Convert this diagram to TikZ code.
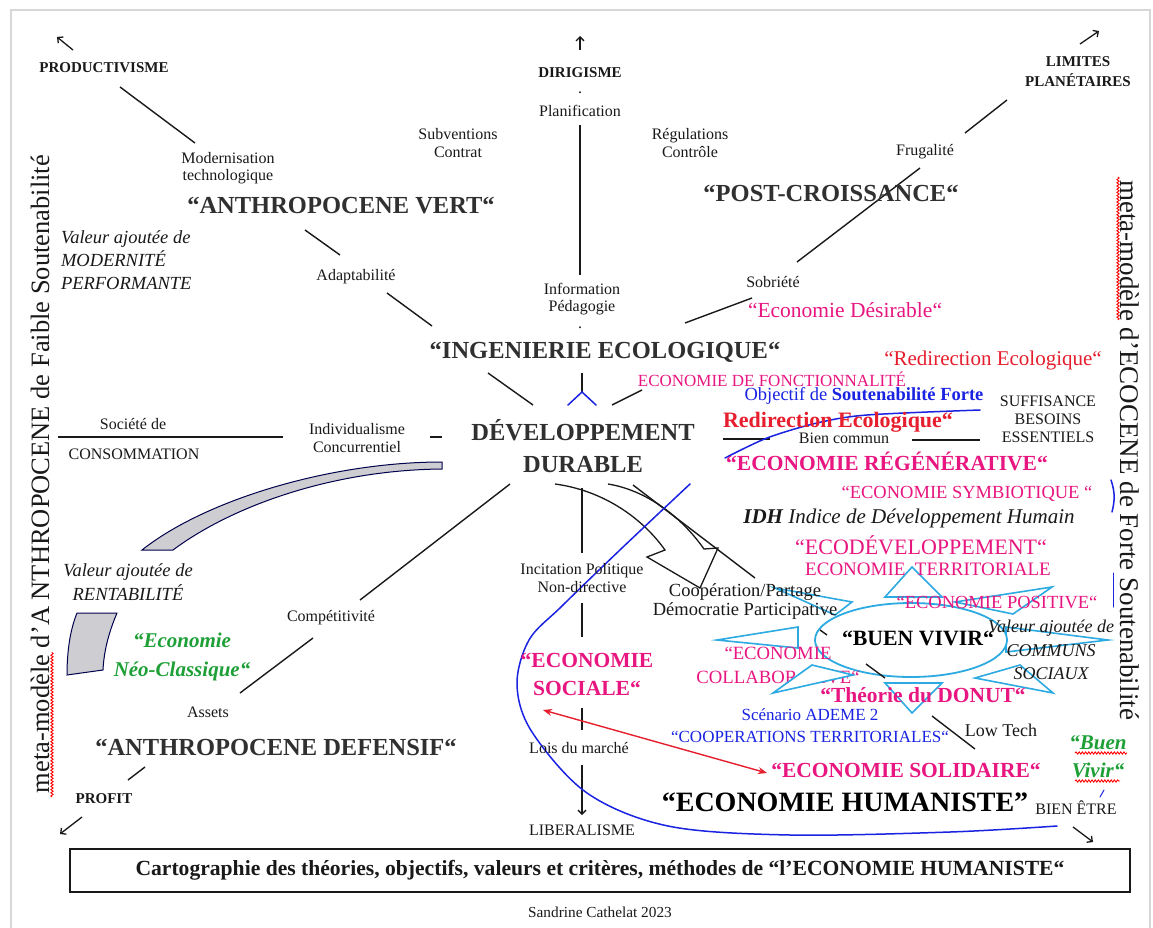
\documentclass[tikz,border=0pt]{standalone}
\usepackage{fontspec}
\setmainfont{Liberation Serif}
\usetikzlibrary{arrows.meta,decorations.pathmorphing,shapes.geometric}

\definecolor{ink}{RGB}{25,25,25}
\definecolor{headgray}{RGB}{48,48,48}
\definecolor{magen}{RGB}{232,22,128}
\definecolor{redir}{RGB}{230,30,45}
\definecolor{pen}{RGB}{25,35,225}
\definecolor{sky}{RGB}{45,170,225}
\definecolor{leaf}{RGB}{30,160,55}
\definecolor{band}{RGB}{205,205,210}
\definecolor{framegray}{RGB}{215,215,215}

\newcommand{\fsz}[2]{\fontsize{#1}{#2}\selectfont}

\begin{document}
\begin{tikzpicture}[x=1pt,y=-1pt,
  every node/.style={inner sep=0pt, outer sep=0pt, align=center, text=ink},
  lab/.style={font=\fsz{16}{17.5}},
  pole/.style={font=\bfseries\fsz{15}{20}},
  headline/.style={font=\bfseries\fsz{24.5}{32}, text=headgray},
  mag/.style={text=magen},
  spoke/.style={draw=ink, line width=1.4pt},
  pointer/.style={draw=ink, line width=1.3pt, -{Straight Barb[length=4pt,width=8pt,line width=1.3pt]}},
  rayline/.style={draw=sky, line width=1.6pt, line join=miter},
  wavy/.style={draw=red, line width=0.9pt, decorate, decoration={snake, amplitude=1.1pt, segment length=3.2pt}},
  inkpen/.style={draw=pen, line width=1.5pt, line cap=round}
]
\useasboundingbox (0,0) rectangle (1153,928);
\fill[white] (0,0) rectangle (1153,928);
% page edge
\draw[framegray, line width=2pt] (11,928) -- (11,10) -- (1150,10) -- (1150,928);

% ---------- end points of the spokes ----------
\coordinate (a1) at (120,87);  \coordinate (a2) at (195,143);
\coordinate (b1) at (305,230); \coordinate (b2) at (340,255);
\coordinate (c1) at (387,293); \coordinate (c2) at (432,326);
\coordinate (d1) at (488,373); \coordinate (d2) at (533,405);
\coordinate (v1) at (580,125); \coordinate (v2) at (580,275);
\coordinate (y0) at (582,373); \coordinate (y1) at (582,392);
\coordinate (y2) at (568,405); \coordinate (y3) at (596,405);
\coordinate (e1) at (1007,100); \coordinate (e2) at (965,133);
\coordinate (f1) at (920,168); \coordinate (f2) at (797,262);
\coordinate (g1) at (752,298); \coordinate (g2) at (685,323);
\coordinate (h1) at (612,405); \coordinate (h2) at (642,390);
\coordinate (i1) at (58,437);  \coordinate (i2) at (283,437);
\coordinate (j1) at (430,437); \coordinate (j2) at (442,437);
\coordinate (k1) at (510,484); \coordinate (k2) at (360,600);
\coordinate (l1) at (313,638); \coordinate (l2) at (240,693);
\coordinate (m1) at (145,767); \coordinate (m2) at (128,780);
\coordinate (n1) at (582,488); \coordinate (n2) at (582,553);
\coordinate (o1) at (582,603); \coordinate (o2) at (582,637);
\coordinate (p1) at (582,708); \coordinate (p2) at (582,730);
\coordinate (q1) at (582,765); \coordinate (q2) at (582,815);
\coordinate (r1) at (633,485); \coordinate (r2) at (755,578);
\coordinate (r3) at (820,630); \coordinate (r4) at (827,635);
\coordinate (r5) at (866,664); \coordinate (r6) at (885,678);
\coordinate (r7) at (932,716); \coordinate (r8) at (975,749);
\coordinate (r9) at (1073,827); \coordinate (r10) at (1093,842);
\coordinate (t1) at (723,439); \coordinate (t2) at (770,439);
\coordinate (t3) at (912,440); \coordinate (t4) at (980,440);
\coordinate (ua1) at (73,50);   \coordinate (ua2) at (57,37);
\coordinate (ub1) at (580,50);  \coordinate (ub2) at (580,36);
\coordinate (uc1) at (1080,44); \coordinate (uc2) at (1099,31);
\coordinate (ud1) at (82,817);  \coordinate (ud2) at (60,834);
\coordinate (ra) at (543,710);  \coordinate (rb) at (767,773);

% ---------- grey curved band ----------
\filldraw[fill=band, draw=black!70!blue, line width=1pt]
  (442,462) .. controls (330,462) and (205,500) .. (142,550) -- (173,550)
  .. controls (232,506) and (332,470) .. (442,469) -- cycle;
\filldraw[fill=band, draw=black!70!blue, line width=1pt]
  (77,613) -- (117,613) .. controls (109,632) and (104,650) .. (103,670)
  -- (67,675) .. controls (67,652) and (70,630) .. (77,613) -- cycle;

% ---------- hollow arrow below the centre ----------
\draw[ink, line width=1.3pt, line join=miter]
  (555,484) .. controls (600,490) and (640,515) .. (665,550) -- (647,557)
  -- (700,588) -- (718,548) -- (704,549) .. controls (680,515) and (645,490) .. (608,484);

% ---------- spokes ----------
\draw[spoke] (a1) -- (a2);
\draw[spoke] (b1) -- (b2);
\draw[spoke] (c1) -- (c2);
\draw[spoke] (d1) -- (d2);
\draw[spoke] (v1) -- (v2);
\draw[spoke] (y0) -- (y1);
\draw[inkpen] (y1) -- (y2);
\draw[inkpen] (y1) -- (y3);
\draw[spoke] (e1) -- (e2);
\draw[spoke] (f1) -- (f2);
\draw[spoke] (g1) -- (g2);
\draw[spoke] (h1) -- (h2);
\draw[spoke] (i1) -- (i2);
\draw[spoke] (j1) -- (j2);
\draw[spoke] (k1) -- (k2);
\draw[spoke] (l1) -- (l2);
\draw[spoke] (m1) -- (m2);
\draw[spoke] (n1) -- (n2);
\draw[spoke] (o1) -- (o2);
\draw[spoke] (p1) -- (p2);
\draw[pointer] (q1) -- (q2);
\draw[spoke] (r1) -- (r2);
\draw[spoke] (t1) -- (t2);
\draw[spoke] (t3) -- (t4);
\draw[pointer] (ua1) -- (ua2);
\draw[pointer] (ub1) -- (ub2);
\draw[pointer] (uc1) -- (uc2);
\draw[pointer] (ud1) -- (ud2);
\draw[pointer] (r9) -- (r10);

% ---------- sun around BUEN VIVIR ----------
\draw[rayline] (912,567) -- (942,597) -- (885,597) -- cycle;
\draw[rayline] (1052,587) -- (1013,614) -- (955,602) -- cycle;
\draw[rayline] (1108,640) -- (1006,652) -- (1006,627) -- cycle;
\draw[rayline] (1053,693) -- (975,678) -- (1020,665) -- cycle;
\draw[rayline] (912,713) -- (885,683) -- (942,683) -- cycle;
\draw[rayline] (717,640) -- (798,627) -- (798,648) -- cycle;
\draw[rayline] (775,588) -- (852,602) -- (835,615) -- cycle;
\node[ellipse, draw=sky, line width=1.8pt, fill=white, minimum width=192pt, minimum height=74pt] (oval) at (911,640) {};
\draw[spoke] (r3) -- (r4);
\draw[spoke] (r5) -- (r6);
\draw[spoke] (r7) -- (r8);

% ---------- hand-drawn pen strokes ----------
\draw[inkpen] plot[smooth, tension=0.55] coordinates {(690,484) (622,548) (562,606) (529,640) (517,685) (532,732) (587,793) (668,826) (790,835) (950,832) (1057,826)};
\draw[inkpen] plot[smooth] coordinates {(725,458) (767,438) (817,423) (867,415) (980,410)};
\draw[inkpen] (1111,480) .. controls (1115,492) and (1115,500) .. (1112,512);
\draw[inkpen, line width=1pt] (1113,573) -- (1113,607);
\draw[inkpen, line width=1pt] (1104,790) -- (1100,797);

% red double arrow
\draw[redir, line width=1.4pt, {Stealth[length=9pt,width=7pt]}-{Stealth[length=9pt,width=7pt]}] (ra) -- (rb);

% ---------- texts: upper half ----------
\node[pole] (prod) at (104,68) {PRODUCTIVISME};
\node[pole] (dirig) at (580,73) {DIRIGISME};
\node[lab] (dot1) at (580,93) {.};
\node[pole] (lim) at (1078,72) {LIMITES\\PLANÉTAIRES};
\node[lab] (plan) at (580,111) {Planification};
\node[lab] (modern) at (228,168) {Modernisation\\technologique};
\node[lab] (subv) at (458,143) {Subventions\\Contrat};
\node[lab] (regul) at (690,143) {Régulations\\Contrôle};
\node[headline] (avert) at (341,206) {“ANTHROPOCENE VERT“};
\node[headline] (postc) at (831,193) {“POST-CROISSANCE“};
\node[lab] (frug) at (925,152) {Frugalité};
\node[lab] (adapt) at (356,277) {Adaptabilité};
\node[lab] (sobr) at (773,282) {Sobriété};
\node[lab] (info) at (582,299) {Information\\Pédagogie};
\node[lab] (dot2) at (580,328) {.};
\node[mag, font=\fsz{21.5}{24}] (desir) at (845,310) {“Economie Désirable“};
\node[font=\itshape\fsz{18.5}{23}, align=left, anchor=west] (valmod) at (61,260) {Valeur ajoutée de\\MODERNITÉ\\PERFORMANTE};
\node[headline] (ingen) at (605,352) {“INGENIERIE ECOLOGIQUE“};
\node[headline] (dev) at (583,446) {DÉVELOPPEMENT\\DURABLE};

% ---------- texts: left ----------
\node[lab] (soc) at (133,424) {Société de};
\node[lab] (consom) at (134,454) {CONSOMMATION};
\node[lab] (indiv) at (357,438) {Individualisme\\Concurrentiel};
\node[font=\itshape\fsz{18.5}{24}] (valrent) at (128,582) {Valeur ajoutée de\\RENTABILITÉ};
\node[lab] (compet) at (331,618) {Compétitivité};
\node[text=leaf, font=\bfseries\itshape\fsz{21}{29}] (neo) at (182,657) {“Economie\\Néo-Classique“};
\node[lab] (assets) at (208,712) {Assets};
\node[headline] (adef) at (276,747) {“ANTHROPOCENE DEFENSIF“};
\node[pole] (profit) at (104,799) {PROFIT};

% ---------- texts: centre column ----------
\node[lab] (incit) at (582,578) {Incitation Politique\\Non-directive};
\node[mag, font=\bfseries\fsz{21.5}{28}] (esoc) at (587,674) {“ECONOMIE\\SOCIALE“};
\node[lab] (lois) at (579,748) {Lois du marché};
\node[lab] (liber) at (582,830) {LIBERALISME};

% ---------- texts: right ----------
\node[text=redir, font=\fsz{21}{24}] (redir1) at (993,360) {“Redirection Ecologique“};
\node[mag, font=\fsz{17}{20}] (fonct) at (772,379) {ECONOMIE DE FONCTIONNALITÉ};
\node[text=pen, font=\fsz{18.5}{20}] (obj) at (864,396) {Objectif de \textbf{Soutenabilité Forte}};
\node[font=\fsz{16}{18}] (suff) at (1048,419) {SUFFISANCE\\BESOINS\\ESSENTIELS};
\node[text=redir, font=\bfseries\fsz{22}{24}] (redir2) at (838,422) {Redirection Ecologique“};
\node[lab] (bienc) at (844,438) {Bien commun};
\node[mag, font=\bfseries\fsz{21.5}{24}] (regen) at (887,461) {“ECONOMIE RÉGÉNÉRATIVE“};
\node[mag, font=\fsz{18.5}{20}] (symb) at (967,494) {“ECONOMIE SYMBIOTIQUE “};
\node[font=\itshape\fsz{21}{24}] (idh) at (909,518) {\textbf{IDH} Indice de Développement Humain};
\node[mag, font=\fsz{22}{24}] (ecodev) at (921,545) {“ECODÉVELOPPEMENT“};
\node[mag, font=\fsz{19}{22}] (territ) at (928,569) {ECONOMIE\ \ TERRITORIALE};
\node[font=\fsz{18.5}{19}] (coop) at (745,602) {Coopération/Partage\\Démocratie Participative};
\node[mag, font=\fsz{18.5}{20}] (posit) at (997,602) {“ECONOMIE POSITIVE“};
\node[font=\bfseries\fsz{21.8}{24}, text=black] (buen) at (918,638) {“BUEN VIVIR“};
\node[font=\itshape\fsz{18}{23.5}] (valcom) at (1051,650) {Valeur ajoutée de\\COMMUNS\\SOCIAUX};
\node[mag, font=\fsz{18.7}{24}] (collab) at (778,665) {“ECONOMIE\\COLLABORATIVE“};
\filldraw[rayline, fill=white] (773,693) -- (812,665) -- (853,675) -- cycle;
\node[mag, font=\bfseries\fsz{21.5}{24}] (donut) at (923,695) {“Théorie du DONUT“};
\node[text=pen, font=\fsz{17}{20}] (ademe) at (810,715) {Scénario ADEME 2};
\node[text=pen, font=\fsz{17}{20}] (cterr) at (810,737) {“COOPERATIONS TERRITORIALES“};
\node[font=\fsz{18}{20}] (low) at (1001,730) {Low Tech};
\node[mag, font=\bfseries\fsz{21.5}{24}] (solid) at (906,770) {“ECONOMIE SOLIDAIRE“};
\node[font=\bfseries\fsz{28}{30}, text=black] (human) at (845,802) {“ECONOMIE HUMANISTE”};
\node[lab] (bienetre) at (1076,808) {BIEN ÊTRE};
\node[text=leaf, font=\bfseries\itshape\fsz{21}{28}] (buenv) at (1098,757) {“Buen\\Vivir“};
\draw[wavy] (1075,753) -- (1127,753);
\draw[wavy] (1075,781) -- (1120,781);

% ---------- side titles ----------
\node[rotate=90, font=\fsz{26.5}{28}] (leftmeta) at (40,474) {meta-modèle d’A NTHROPOCENE de Faible Soutenabilité};
\draw[wavy] (52,797) -- (52,652);
\node[rotate=-90, font=\fsz{27}{28}] (rightmeta) at (1130,450) {meta-modèle d’ECOCENE de Forte Soutenabilité};
\draw[wavy] (1118,177) -- (1118,320);

% ---------- caption ----------
\node[draw=ink, line width=1.4pt, minimum width=1060pt, minimum height=43pt, font=\bfseries\fsz{21.6}{24}] (caption) at (600,870.5)
  {Cartographie des théories, objectifs, valeurs et critères, méthodes de “l’ECONOMIE HUMANISTE“};
\node[font=\fsz{15.3}{17}] (sign) at (600,912) {Sandrine Cathelat 2023};
\end{tikzpicture}
\end{document}
